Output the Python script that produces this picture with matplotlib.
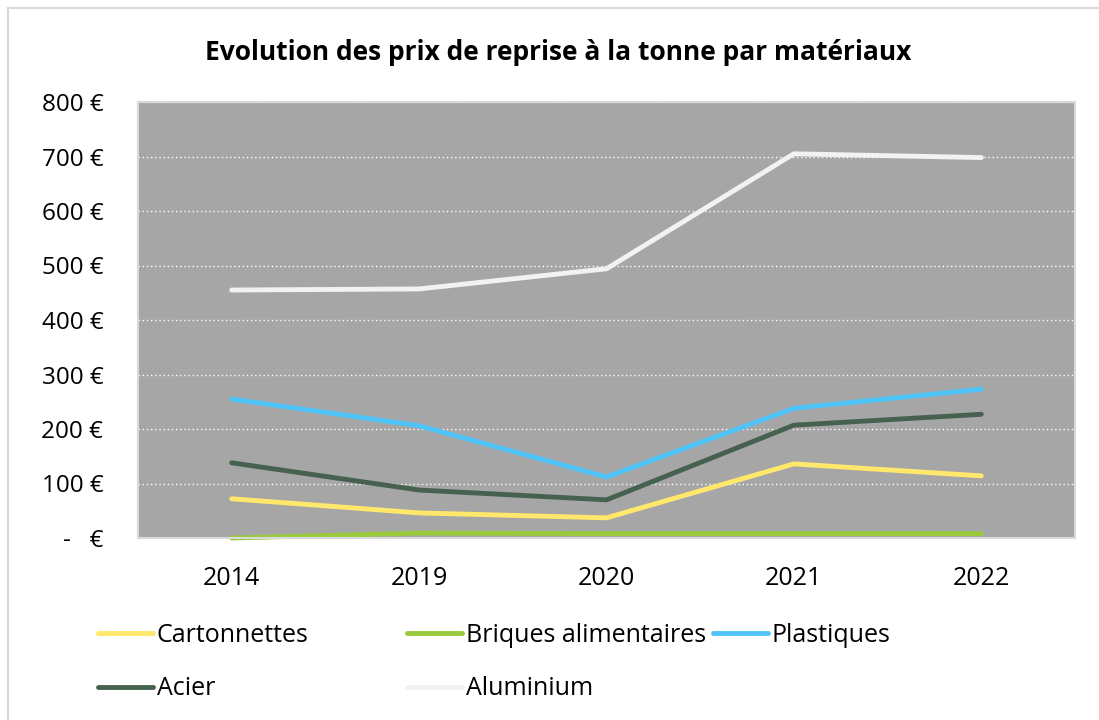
import numpy as np
import matplotlib
matplotlib.use("Agg")
import matplotlib.pyplot as plt
from matplotlib.patches import Rectangle

plt.rcParams['font.family'] = ['Open Sans', 'DejaVu Sans']

annees = ['2014', '2019', '2020', '2021', '2022']
cartonnettes = [72, 46, 37, 136, 114]
briques = [0, 9, 8, 8, 8]
plastiques = [255, 206, 112, 238, 273]
acier = [138, 88, 70, 207, 227]
aluminium = [455, 457, 494, 705, 698]

series = [
    ('Cartonnettes', cartonnettes, '#FFE86B'),
    ('Briques alimentaires', briques, '#9ACA3C'),
    ('Plastiques', plastiques, '#4FC4F8'),
    ('Acier', acier, '#466150'),
    ('Aluminium', aluminium, '#F2F2F2'),
]
yticks = [0, 100, 200, 300, 400, 500, 600, 700, 800]
ylabels = ['-   €'] + [f'{v} €' for v in yticks[1:]]

W, H = 1099, 720
fig = plt.figure(figsize=(W / 100, H / 100), dpi=100, facecolor='white')
# cadre gris clair du graphique
fig.patches.append(Rectangle((8 / W, -0.05), 1.2, 1.05 - 8 / H,
                             transform=fig.transFigure, fill=False,
                             edgecolor='#D9D9D9', linewidth=1.5))
ax = fig.add_axes([138 / W, 1 - 538 / H, (1075 - 138) / W, (538 - 102) / H])
ax.set_facecolor('#A6A6A6')

x = np.arange(len(annees))
lines = {}
for nom, vals, col in series:
    lines[nom], = ax.plot(x, vals, color=col, linewidth=3.5, clip_on=False,
                          solid_capstyle='round', solid_joinstyle='round', label=nom)

ax.set_xlim(-0.5, len(annees) - 0.5)
ax.set_ylim(0, 800)
ax.set_xticks(x)
ax.set_xticklabels(annees, fontsize=18)
ax.set_yticks(yticks)
ax.set_yticklabels(ylabels, fontsize=17.5)
ax.tick_params(length=0)
ax.tick_params(axis='x', pad=20)
ax.tick_params(axis='y', pad=25)
ax.grid(axis='y', color='white', linestyle=(0, (1, 2)), linewidth=1)
ax.set_axisbelow(True)
for s in ax.spines.values():
    s.set_color('#D9D9D9')
    s.set_linewidth(1.5)

fig.suptitle('Evolution des prix de reprise à la tonne par matériaux',
             fontsize=19, fontweight='bold', x=558 / W, y=1 - 52 / H, va='center')

# légende : trois colonnes placées comme dans Excel
colonnes = [(98, ['Cartonnettes', 'Acier']),
            (407, ['Briques alimentaires', 'Aluminium']),
            (713, ['Plastiques'])]
for xpos, noms in colonnes:
    ymid = (635 + 689) / 2 if len(noms) == 2 else 635
    leg = fig.legend([lines[n] for n in noms], noms, frameon=False, fontsize=18,
                     loc='center left', bbox_to_anchor=(xpos / W, 1 - ymid / H),
                     handlelength=2.2, handletextpad=0.15, labelspacing=1.15,
                     borderpad=0, borderaxespad=0)

plt.savefig('out.png', dpi=100, facecolor='white')
